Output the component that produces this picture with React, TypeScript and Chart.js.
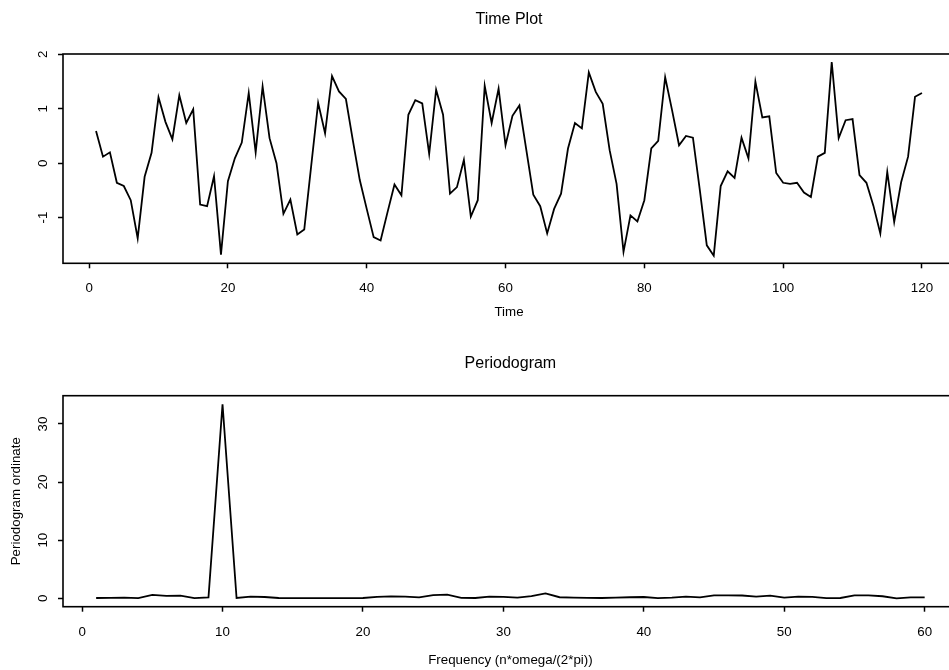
import React, { useEffect, useRef } from 'react';
import { Chart, registerables } from 'chart.js';

Chart.register(...registerables);

// ---- Data ----
const TIME_VALUES = [
  0.59, 0.12, 0.2, -0.36, -0.42, -0.68, -1.38, -0.25, 0.19, 1.21,
  0.76, 0.44, 1.25, 0.74, 0.99, -0.76, -0.79, -0.24, -1.68, -0.33,
  0.09, 0.38, 1.29, 0.2, 1.41, 0.46, 0.0, -0.93, -0.67, -1.31,
  -1.22, -0.05, 1.11, 0.55, 1.6, 1.32, 1.18, 0.42, -0.31, -0.84,
  -1.36, -1.42, -0.9, -0.39, -0.59, 0.89, 1.16, 1.1, 0.17, 1.35,
  0.89, -0.56, -0.44, 0.06, -0.98, -0.68, 1.42, 0.74, 1.37, 0.33,
  0.87, 1.06, 0.24, -0.58, -0.79, -1.29, -0.84, -0.56, 0.27, 0.74,
  0.64, 1.67, 1.31, 1.09, 0.24, -0.38, -1.63, -0.96, -1.07, -0.68,
  0.27, 0.41, 1.58, 0.97, 0.33, 0.5, 0.47, -0.5, -1.51, -1.7,
  -0.42, -0.15, -0.27, 0.47, 0.09, 1.5, 0.84, 0.86, -0.18, -0.36,
  -0.38, -0.36, -0.54, -0.62, 0.12, 0.19, 1.86, 0.46, 0.79, 0.81,
  -0.22, -0.36, -0.78, -1.29, -0.16, -1.08, -0.35, 0.12, 1.22, 1.29,
];

const FREQ_VALUES = [
  0.05, 0.08, 0.12, 0.02, 0.57, 0.4, 0.45, 0.03, 0.17, 33.4,
  0.05, 0.28, 0.22, 0.05, 0.03, 0.03, 0.04, 0.03, 0.03, 0.05,
  0.25, 0.33, 0.3, 0.15, 0.55, 0.62, 0.08, 0.05, 0.28, 0.24,
  0.12, 0.38, 0.85, 0.18, 0.12, 0.08, 0.05, 0.1, 0.18, 0.22,
  0.02, 0.1, 0.28, 0.15, 0.5, 0.5, 0.48, 0.3, 0.45, 0.12,
  0.3, 0.25, 0.02, 0.05, 0.5, 0.5, 0.35, 0.0, 0.15, 0.15,
];

const TIME_X_TICKS = [0, 20, 40, 60, 80, 100, 120];
const TIME_Y_TICKS = [-1, 0, 1, 2];
const FREQ_X_TICKS = [0, 10, 20, 30, 40, 50, 60];
const FREQ_Y_TICKS = [0, 10, 20, 30];

const TIME_TITLE = 'Time Plot';
const TIME_X_LABEL = 'Time';
const FREQ_TITLE = 'Periodogram';
const FREQ_X_LABEL = 'Frequency (n*omega/(2*pi))';
const FREQ_Y_LABEL = 'Periodogram ordinate';

const FONT = "'Liberation Sans', Arial, Helvetica, sans-serif";
const LABEL_SIZE = 13.33;
const TITLE_SIZE = 16;

const boxPlugin = {
  id: 'rbox',
  afterDraw(chart: any) {
    const { ctx, chartArea: a } = chart;
    ctx.save();
    ctx.strokeStyle = '#000';
    ctx.lineWidth = 1.6;
    ctx.strokeRect(a.left, a.top, a.right - a.left, a.bottom - a.top);
    ctx.restore();
  },
};

type PanelProps = {
  values: number[];
  xTicks: number[];
  yTicks: number[];
  xMin: number;
  xMax: number;
  yMin: number;
  yMax: number;
  title: string;
  xLabel: string;
  yLabel?: string;
  padRight: number;
  xAxisH: number;
  titlePad: { top: number; bottom: number };
  xTickPad: number;
  xTitlePadBottom: number;
  yTickPad: number;
  yTitlePadTop: number;
};

const CANVAS_W = 980;
const CANVAS_H = 335;
const Y_AXIS_W = 63;

function Panel(p: PanelProps) {
  const ref = useRef<HTMLCanvasElement | null>(null);
  useEffect(() => {
    if (!ref.current) return;
    const data = p.values.map((v, i) => ({ x: i + 1, y: v }));
    const chart = new Chart(ref.current, {
      type: 'line',
      data: {
        datasets: [
          {
            data,
            borderColor: '#000',
            borderWidth: 1.8,
            pointRadius: 0,
            tension: 0,
            fill: false,
          },
        ],
      },
      options: {
        animation: false,
        responsive: false,
        maintainAspectRatio: false,
        devicePixelRatio: 1,
        events: [],
        parsing: false,
        layout: { padding: { left: 0, top: 0, bottom: 0, right: p.padRight } },
        plugins: {
          legend: { display: false },
          tooltip: { enabled: false },
          title: {
            display: true,
            text: p.title,
            fullSize: false,
            color: '#000',
            font: { family: FONT, size: TITLE_SIZE, weight: 'normal' },
            padding: p.titlePad,
          },
        },
        scales: {
          x: {
            type: 'linear',
            min: p.xMin,
            max: p.xMax,
            afterBuildTicks: (s: any) => {
              s.ticks = p.xTicks.map((v) => ({ value: v }));
            },
            afterFit: (s: any) => {
              s.height = p.xAxisH;
            },
            border: { display: false },
            grid: {
              display: true,
              drawOnChartArea: false,
              drawTicks: true,
              tickLength: 5,
              tickWidth: 1.5,
              tickColor: '#000',
              color: '#000',
            },
            ticks: {
              color: '#000',
              padding: p.xTickPad,
              maxRotation: 0,
              minRotation: 0,
              autoSkip: false,
              font: { family: FONT, size: LABEL_SIZE },
              callback: (v: any) => String(v),
            },
            title: {
              display: true,
              text: p.xLabel,
              color: '#000',
              font: { family: FONT, size: LABEL_SIZE },
              padding: { top: 0, bottom: p.xTitlePadBottom },
            },
          },
          y: {
            type: 'linear',
            min: p.yMin,
            max: p.yMax,
            afterBuildTicks: (s: any) => {
              s.ticks = p.yTicks.map((v) => ({ value: v }));
            },
            afterFit: (s: any) => {
              s.width = Y_AXIS_W;
            },
            border: { display: false },
            grid: {
              display: true,
              drawOnChartArea: false,
              drawTicks: true,
              tickLength: 5,
              tickWidth: 1.5,
              tickColor: '#000',
              color: '#000',
            },
            ticks: {
              color: '#000',
              padding: p.yTickPad,
              minRotation: 90,
              maxRotation: 90,
              crossAlign: 'center',
              autoSkip: false,
              font: { family: FONT, size: LABEL_SIZE },
              callback: (v: any) => String(v),
            },
            title: {
              display: !!p.yLabel,
              text: p.yLabel || '',
              color: '#000',
              font: { family: FONT, size: LABEL_SIZE },
              padding: { top: p.yTitlePadTop, bottom: 0 },
            },
          },
        },
      } as any,
      plugins: [boxPlugin],
    });
    return () => chart.destroy();
  }, []);
  return (
    <canvas
      ref={ref}
      width={CANVAS_W}
      height={CANVAS_H}
      style={{ display: 'block', width: CANVAS_W, height: CANVAS_H }}
    />
  );
}

export default function App() {
  return (
    <div
      style={{
        position: 'fixed',
        left: 0,
        top: 0,
        width: 949,
        height: 670,
        overflow: 'hidden',
        background: '#fff',
      }}
    >
      <Panel
        values={TIME_VALUES}
        xTicks={TIME_X_TICKS}
        yTicks={TIME_Y_TICKS}
        xMin={-3.76}
        xMax={124.76}
        yMin={-1.84}
        yMax={2.007}
        title={TIME_TITLE}
        xLabel={TIME_X_LABEL}
        padRight={CANVAS_W - 955}
        xAxisH={71.7}
        titlePad={{ top: 10.2, bottom: 24.6 }}
        xTickPad={12.4}
        xTitlePadBottom={15}
        yTickPad={8.8}
        yTitlePadTop={0}
      />
      <Panel
        values={FREQ_VALUES}
        xTicks={FREQ_X_TICKS}
        yTicks={FREQ_Y_TICKS}
        xMin={-1.36}
        xMax={62.36}
        yMin={-1.45}
        yMax={34.87}
        title={FREQ_TITLE}
        xLabel={FREQ_X_LABEL}
        yLabel={FREQ_Y_LABEL}
        padRight={CANVAS_W - 957.8}
        xAxisH={63.3}
        titlePad={{ top: 19.2, bottom: 22.3 }}
        xTickPad={13}
        xTitlePadBottom={2}
        yTickPad={7.3}
        yTitlePadTop={8.7}
      />
    </div>
  );
}
